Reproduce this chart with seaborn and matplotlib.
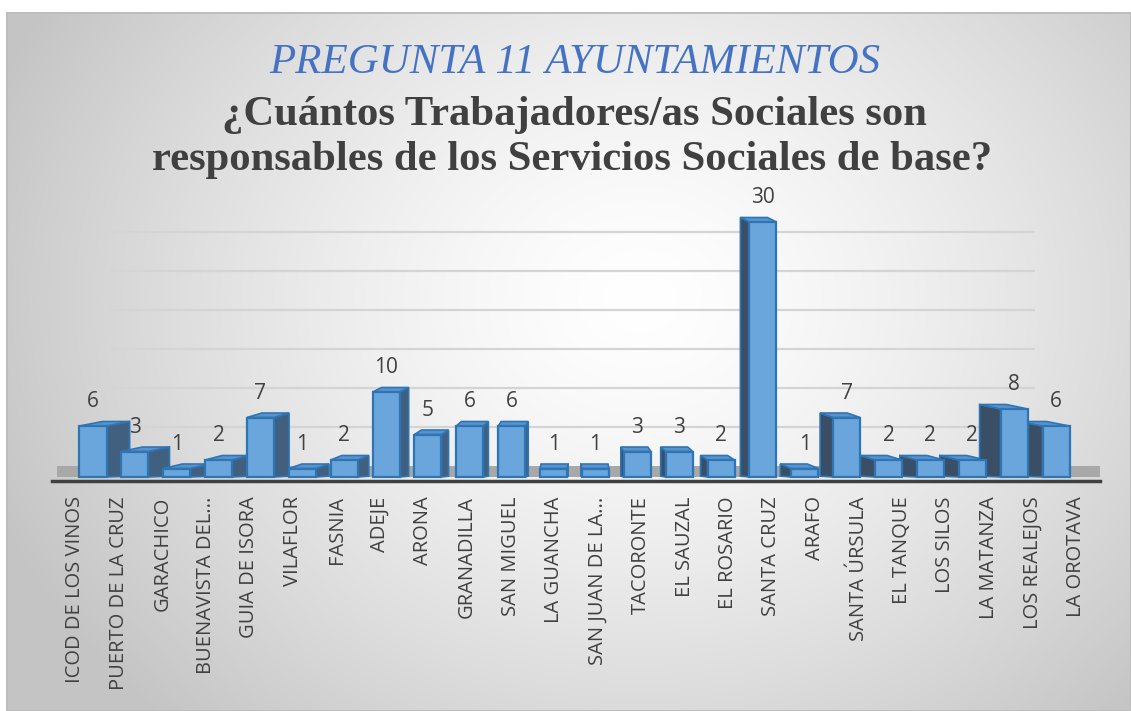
import numpy as np
import pandas as pd
import matplotlib
matplotlib.use("Agg")
import matplotlib.pyplot as plt
import seaborn as sns
from matplotlib.patches import Polygon, Rectangle

# ---------------- data ----------------
municipios = [
    "ICOD DE LOS VINOS", "PUERTO DE LA CRUZ", "GARACHICO", "BUENAVISTA DEL...",
    "GUIA DE ISORA", "VILAFLOR", "FASNIA", "ADEJE", "ARONA", "GRANADILLA",
    "SAN MIGUEL", "LA GUANCHA", "SAN JUAN DE LA...", "TACORONTE", "EL SAUZAL",
    "EL ROSARIO", "SANTA CRUZ", "ARAFO", "SANTA ÚRSULA", "EL TANQUE",
    "LOS SILOS", "LA MATANZA", "LOS REALEJOS", "LA OROTAVA",
]
trabajadores = [6, 3, 1, 2, 7, 1, 2, 10, 5, 6, 6, 1, 1, 3, 3, 2, 30, 1, 7, 2, 2, 2, 8, 6]
grid_values = [5, 10, 15, 20, 25, 30]
titulo = "PREGUNTA 11 AYUNTAMIENTOS"
subtitulo_1 = "¿Cuántos Trabajadores/as Sociales son"
subtitulo_2 = "responsables de los Servicios Sociales de base?"

# ---------------- style ----------------
sns.set_theme(style="white")
plt.rcParams['font.family'] = ['Open Sans', 'DejaVu Sans']

W, H, DPI = 1131, 711, 100
fig = plt.figure(figsize=(W / DPI, H / DPI), dpi=DPI)


def fx(px):
    return px / W


def fy(py):
    return 1 - py / H


# background: radial grey gradient inside a framed panel
bg = fig.add_axes([0, 0, 1, 1], zorder=-10)
yy, xx = np.mgrid[0:H, 0:W]
r = np.sqrt(((xx - 640) / 650.0) ** 2 + ((yy - 300) / 540.0) ** 2)
v = np.clip(1 - 0.21 * r ** 1.4, 0.77, 1.0)
img = np.dstack([v, v, v])
outside = (xx < 7) | (yy < 12)
img[outside] = 1.0
bg.imshow(img, extent=(0, W, H, 0), aspect='auto', interpolation='bilinear')
bg.set_xlim(0, W)
bg.set_ylim(H, 0)
bg.axis('off')
fig.add_artist(Rectangle((fx(7), 0), 1 - fx(7), fy(12.5), transform=fig.transFigure,
                         fill=False, edgecolor='#bdbdbd', lw=1.4))

# layout (pixels)
AX_L, AX_R, AX_T, AX_B = 52, 1100, 200, 481
FRONT_BASE, FRONT_SCALE = 477, 8.5
BACK_BASE, BACK_SCALE = 466, 7.8
BAR0, BAR_STEP = 93, 41.87
LAB0, LAB_STEP = 75.5, 43.5
n = len(municipios)
rect = [fx(AX_L), fy(AX_B), fx(AX_R - AX_L), (AX_B - AX_T) / H]

# gridlines on the back wall
gax = fig.add_axes([fx(110), fy(AX_B), fx(1035 - 110), (AX_B - AX_T) / H], zorder=0)
gax.set_ylim(-(AX_B - BACK_BASE) / BACK_SCALE, (BACK_BASE - AX_T) / BACK_SCALE)
gax.set_yticks(grid_values)
gax.set_xticks([])
gax.tick_params(axis='y', length=0, labelleft=False)
gax.grid(axis='y', color='#d4d4d4', lw=1.6)
gax.patch.set_alpha(0)
for s in gax.spines.values():
    s.set_visible(False)

# main bars
ax = fig.add_axes(rect, zorder=1)
ax.patch.set_alpha(0)
df = pd.DataFrame({'municipio': municipios, 'trabajadores': trabajadores})
sns.barplot(data=df, x='municipio', y='trabajadores', ax=ax, color='#6aa5dc',
            width=0.645, edgecolor='#2e75b6', linewidth=1.6, saturation=1, zorder=3)
ax.set_xlim(-(BAR0 - AX_L) / BAR_STEP, (n - 1) + (AX_R - (BAR0 + (n - 1) * BAR_STEP)) / BAR_STEP)
ax.set_ylim(-(AX_B - FRONT_BASE) / FRONT_SCALE, (FRONT_BASE - AX_T) / FRONT_SCALE)

# floor
ax.axhspan(0, (FRONT_BASE - BACK_BASE) / FRONT_SCALE, xmin=0.005, color='#a8a8a8',
           zorder=0.5, lw=0)

# pseudo-3D faces derived from each bar
VP = (575 - BAR0) / BAR_STEP
K = 0.048
DY = 4.5 / FRONT_SCALE
for p in ax.containers[0]:
    x0, w, h = p.get_x(), p.get_width(), p.get_height()
    c = x0 + w / 2
    dx = K * (VP - c)
    e = x0 + w if dx >= 0 else x0
    side = Polygon([(e, 0), (e + dx, 0.1), (e + dx, h + DY), (e, h)], closed=True,
                   facecolor='#41607f' if dx >= 0 else '#3a4f66', edgecolor='#2e75b6',
                   lw=1.2, zorder=2)
    top = Polygon([(x0, h), (x0 + w, h), (x0 + w + dx, h + DY), (x0 + dx, h + DY)],
                  closed=True, facecolor='#5a93cc', edgecolor='#2e75b6', lw=1.2, zorder=2)
    ax.add_patch(side)
    ax.add_patch(top)

ax.bar_label(ax.containers[0], padding=10, fontsize=15, color='#404040')
ax.set_xlabel('')
ax.set_ylabel('')
ax.set_xticks([])
ax.set_yticks([])
for k, s in ax.spines.items():
    s.set_visible(k == 'bottom')
ax.spines['bottom'].set_color('#404040')
ax.spines['bottom'].set_linewidth(2.5)

# category labels
lax = fig.add_axes(rect, zorder=1)
lax.patch.set_alpha(0)
lax.set_xlim(-(LAB0 - AX_L) / LAB_STEP, (n - 1) + (AX_R - (LAB0 + (n - 1) * LAB_STEP)) / LAB_STEP)
lax.set_xticks(range(n))
lax.set_xticklabels(municipios, rotation=90, fontsize=14.5, color='#404040')
lax.tick_params(axis='x', length=0, pad=11)
lax.set_yticks([])
for s in lax.spines.values():
    s.set_visible(False)

# titles
fig.text(fx(575), fy(73), titulo, ha='center', va='baseline', family='Liberation Serif',
         style='italic', fontsize=30.9, color='#4472c4')
fig.text(fx(574), fy(125), subtitulo_1, ha='center', va='baseline', family='Liberation Serif',
         weight='bold', fontsize=30.7, color='#404040')
fig.text(fx(572), fy(170), subtitulo_2, ha='center', va='baseline', family='Liberation Serif',
         weight='bold', fontsize=30.7, color='#404040')

fig.savefig('out.png', dpi=DPI)
